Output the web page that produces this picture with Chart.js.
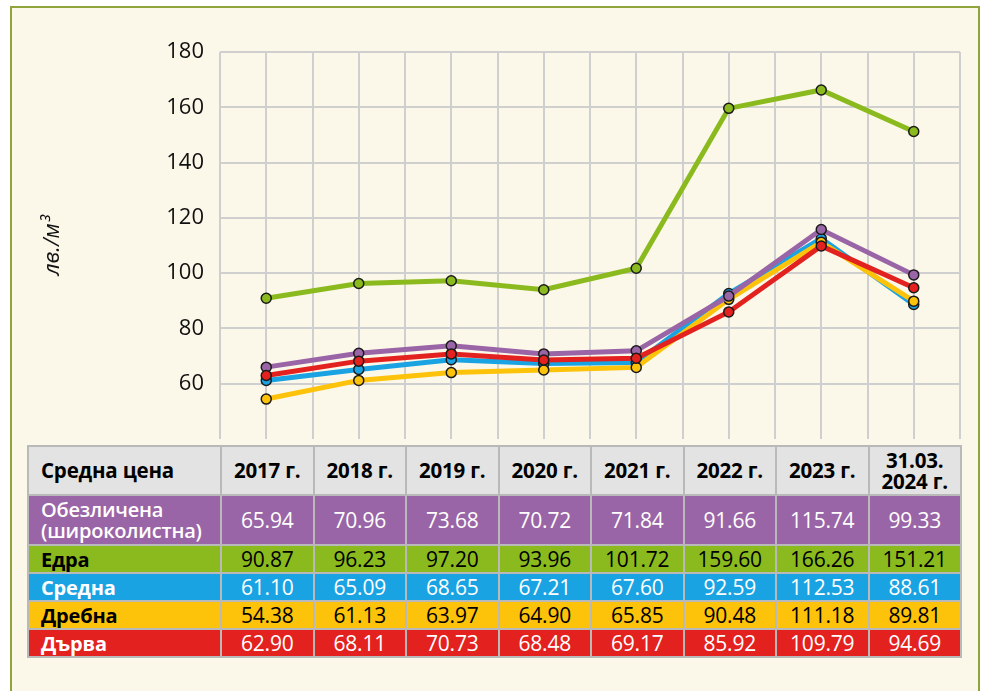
<!DOCTYPE html>
<html>
<head>
<meta charset="utf-8">
<script src="https://cdn.jsdelivr.net/npm/chart.js@4.4.1/dist/chart.umd.min.js"></script>
<style>
  html, body { margin: 0; padding: 0; background: #ffffff; width: 985px; height: 691px; overflow: hidden; }
  #frame { position: absolute; left: 10px; top: 6px; width: 966px; height: 700px; border: 2px solid #8fa53c; background: #fcf8e9; }
  #chartBox { position: absolute; left: 0; top: 0; width: 985px; height: 468px; }
  #tbl { position: absolute; left: 27px; top: 445px; border-collapse: collapse; font-family: "Open Sans", "Noto Sans", sans-serif; table-layout: fixed; background: #fcf8e9; }
  #tbl td { border: 2px solid #b9b9b9; text-align: center; padding: 0; font-size: 21px; line-height: 21px; overflow: hidden; white-space: nowrap; letter-spacing: -0.2px; }
  #tbl td.lab { text-align: left; padding-left: 12px; font-weight: 700; font-size: 20px; }
  #tbl tr.head td { background: #e3e3e3; color: #000; font-weight: 700; height: 47px; font-size: 20.5px; }
</style>
</head>
<body>
<div id="frame"></div>
<div id="chartBox"><canvas id="c"></canvas></div>
<table id="tbl"></table>
<script>
const categories = ["2017 г.", "2018 г.", "2019 г.", "2020 г.", "2021 г.", "2022 г.", "2023 г.", "31.03.\n2024 г."];
const seriesNames = ["Обезличена\n(широколистна)", "Едра", "Средна", "Дребна", "Дърва"];
const obezlichena = [65.94, 70.96, 73.68, 70.72, 71.84, 91.66, 115.74, 99.33];
const edra = [90.87, 96.23, 97.20, 93.96, 101.72, 159.60, 166.26, 151.21];
const sredna = [61.10, 65.09, 68.65, 67.21, 67.60, 92.59, 112.53, 88.61];
const drebna = [54.38, 61.13, 63.97, 64.90, 65.85, 90.48, 111.18, 89.81];
const darva = [62.90, 68.11, 70.73, 68.48, 69.17, 85.92, 109.79, 94.69];
const yTicks = [40, 60, 80, 100, 120, 140, 160, 180];
const tableHeader = "Средна цена";

const colors = ["#9a65a6", "#8bba1e", "#1aa3e2", "#fdc20a", "#e3211f"];
const textColors = ["#fff", "#000", "#fff", "#000", "#fff"];
const allSeries = [obezlichena, edra, sredna, drebna, darva];
const drawOrder = [1, 4, 3, 2, 0];

const toPts = arr => arr.map((v, i) => ({ x: i, y: v }));

const datasets = allSeries.map((s, k) => ({
  label: seriesNames[k],
  data: toPts(s),
  borderColor: colors[k],
  backgroundColor: colors[k],
  borderWidth: 5,
  pointRadius: 5,
  pointBorderWidth: 1.5,
  pointBorderColor: "#1a1a1a",
  pointBackgroundColor: colors[k],
  tension: 0,
  order: drawOrder[k]
}));

new Chart(document.getElementById("c"), {
  type: "line",
  data: { datasets },
  options: {
    responsive: true,
    maintainAspectRatio: false,
    animation: false,
    layout: { padding: { left: 36, top: 52, right: 25, bottom: 7 } },
    plugins: { legend: { display: false }, tooltip: { enabled: false } },
    scales: {
      x: {
        type: "linear",
        min: -0.5, max: 7.5,
        afterFit: s => { s.height = 0; },
        ticks: { display: false, stepSize: 0.5 },
        grid: { color: "#cfcfcf", lineWidth: 2, drawTicks: false },
        border: { display: false }
      },
      y: {
        min: yTicks[0], max: yTicks[yTicks.length - 1],
        afterBuildTicks: s => { s.ticks = yTicks.map(v => ({ value: v })); },
        afterFit: s => { s.width = 184; },
        ticks: {
          padding: 16,
          color: "#111",
          font: { family: "Open Sans", size: 22 },
          callback: v => (v === yTicks[0] ? "" : String(v))
        },
        grid: {
          color: ctx => (ctx.tick && ctx.tick.value === yTicks[0] ? "rgba(0,0,0,0)" : "#cfcfcf"),
          lineWidth: 2,
          drawTicks: false
        },
        border: { display: false },
        title: {
          display: true,
          text: "лв./м³",
          color: "#111",
          font: { family: "Open Sans", size: 22, style: "italic" }
        }
      }
    }
  }
});

// table
const tbl = document.getElementById("tbl");
const colg = document.createElement("colgroup");
const c0 = document.createElement("col"); c0.style.width = "193px"; colg.appendChild(c0);
categories.forEach(() => { const c = document.createElement("col"); c.style.width = "92.5px"; colg.appendChild(c); });
tbl.appendChild(colg);
const hr = document.createElement("tr"); hr.className = "head";
const h0 = document.createElement("td"); h0.className = "lab"; h0.textContent = tableHeader; hr.appendChild(h0);
categories.forEach(c => {
  const td = document.createElement("td");
  td.innerHTML = c.split("\n").join("<br>");
  hr.appendChild(td);
});
tbl.appendChild(hr);
const rowH = [48, 26, 26, 26, 26];
allSeries.forEach((s, k) => {
  const tr = document.createElement("tr");
  const l = document.createElement("td"); l.className = "lab";
  l.innerHTML = seriesNames[k].split("\n").join("<br>");
  l.style.background = colors[k]; l.style.color = textColors[k]; l.style.height = rowH[k] + "px";
  if (k === 0) l.style.fontWeight = "600";
  tr.appendChild(l);
  s.forEach(v => {
    const td = document.createElement("td");
    td.textContent = v.toFixed(2);
    td.style.background = colors[k]; td.style.color = textColors[k];
    tr.appendChild(td);
  });
  tbl.appendChild(tr);
});
</script>
</body>
</html>
